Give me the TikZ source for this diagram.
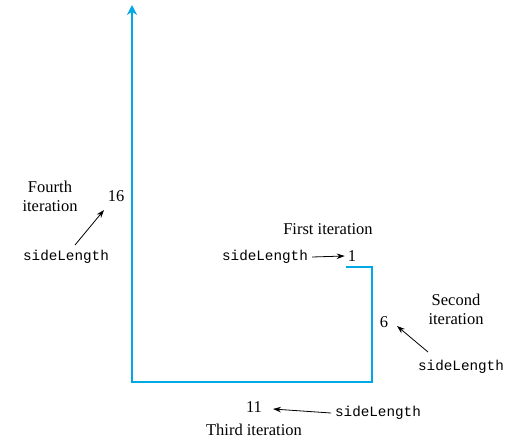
\documentclass[tikz,border=0pt]{standalone}
\usepackage{fontspec}
\setmainfont{Liberation Serif}
\setmonofont{Liberation Mono}
\usetikzlibrary{arrows.meta}
\definecolor{turtle}{RGB}{0,168,230}
\tikzset{
  lbl/.style={font=\fontsize{16.5}{19}\selectfont, inner sep=0pt, align=center},
  var/.style={font=\fontsize{14.3}{17}\selectfont\ttfamily, inner sep=0pt},
  ptr/.style={draw=black, line width=0.8pt, -{Stealth[length=8pt,width=5.5pt]}},
  trail/.style={draw=turtle, line width=2.2pt, line join=miter}
}
\begin{document}
\begin{tikzpicture}[x=1pt,y=-1pt]
\useasboundingbox (0,0) rectangle (508,439);
% turtle trail
\draw[trail, -{Stealth[length=10pt,width=10pt]}] (346,267) -- (372,267) -- (372,382) -- (132,382) -- (132,5);
% first iteration
\node[lbl] (first) at (328,229) {First iteration};
\node[var] (sl1) at (265,257) {sideLength};
\node[lbl] (n1) at (352,256) {1};
\draw[ptr] ([xshift=4]sl1.east) -- ([xshift=-3]n1.west);
% second iteration
\node[lbl] (second) at (456,309) {Second\\iteration};
\node[lbl] (n6) at (384,322) {6};
\node[var] (sl2) at (461,367) {sideLength};
\draw[ptr] ([shift={(-33,-15)}]sl2.center) -- ([shift={(13,4)}]n6.center);
% third iteration
\node[lbl] (n11) at (254,407) {11};
\node[var] (sl3) at (378,413) {sideLength};
\node[lbl] (third) at (254,430) {Third iteration};
\draw[ptr] ([shift={(-47,0)}]sl3.center) -- ([shift={(19,2)}]n11.center);
% fourth iteration
\node[lbl] (fourth) at (50,196) {Fourth\\iteration};
\node[lbl] (n16) at (116,196) {16};
\node[var] (sl4) at (66,257) {sideLength};
\draw[ptr] ([shift={(9,-12)}]sl4.center) -- ([shift={(-12,14)}]n16.center);
\end{tikzpicture}
\end{document}
